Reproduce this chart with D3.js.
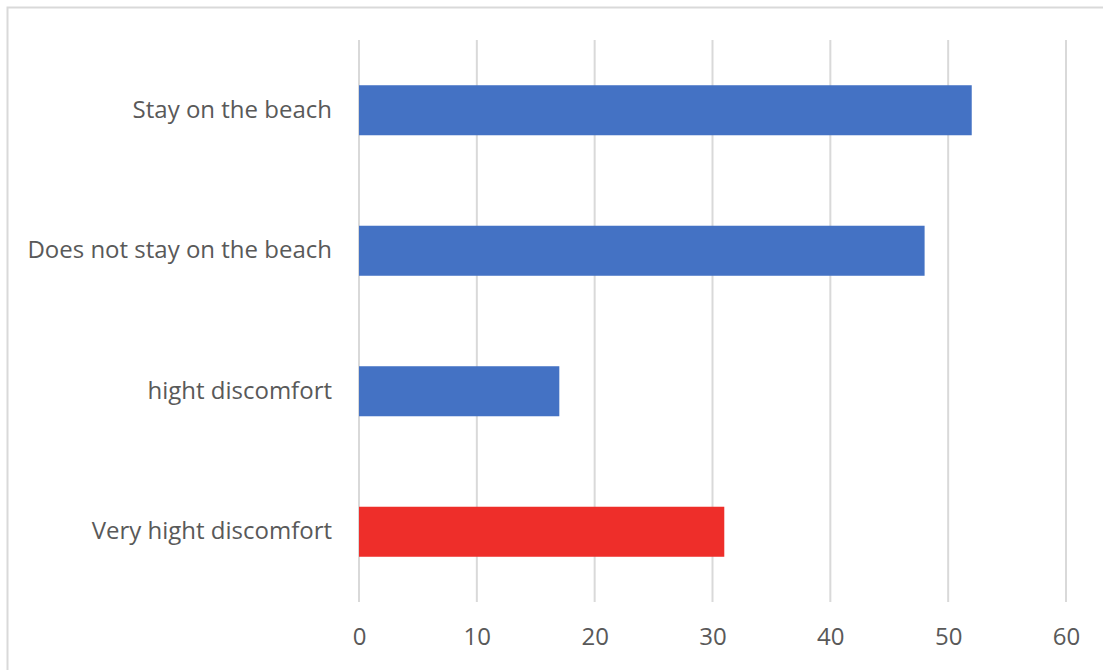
<!DOCTYPE html>
<html>
<head>
<meta charset="utf-8">
<script src="https://cdn.jsdelivr.net/npm/d3@7"></script>
<style>
  body { margin: 0; background: #fff; }
  svg { display: block; }
  .axis text { font-family: 'Open Sans', sans-serif; fill: #595959; }
</style>
</head>
<body>
<div id="chart"></div>
<script>
// data
var categories = ["Stay on the beach", "Does not stay on the beach", "hight discomfort", "Very hight discomfort"];
var values = [52, 48, 17, 31];
var barColors = ["#4472c4", "#4472c4", "#4472c4", "#ee2e2a"];
var xTicks = [0, 10, 20, 30, 40, 50, 60];

var width = 1103, height = 670;
var margin = {top: 40, right: 37, bottom: 68, left: 359};
var innerW = width - margin.left - margin.right,
    innerH = height - margin.top - margin.bottom;

var svg = d3.select("#chart").append("svg")
    .attr("width", width)
    .attr("height", height);

// outer chart border, cropped at the right and bottom
svg.append("rect")
    .attr("x", 7.5).attr("y", 7.5)
    .attr("width", width + 20).attr("height", height + 20)
    .attr("fill", "none")
    .attr("stroke", "#d9d9d9")
    .attr("stroke-width", 2);

var g = svg.append("g")
    .attr("transform", "translate(" + margin.left + "," + margin.top + ")");

var x = d3.scaleLinear().domain([0, 60]).range([0, innerW]);
var y = d3.scaleBand().domain(categories).range([0, innerH])
    .paddingInner(0.644).paddingOuter(0.322);

// vertical gridlines
g.append("g").attr("class", "grid")
  .selectAll("line")
    .data(xTicks)
  .enter().append("line")
    .attr("x1", function(d) { return x(d); })
    .attr("x2", function(d) { return x(d); })
    .attr("y1", 0)
    .attr("y2", innerH)
    .attr("stroke", "#d9d9d9")
    .attr("stroke-width", 2);

// bars
g.append("g").selectAll("rect")
    .data(values)
  .enter().append("rect")
    .attr("x", x(0))
    .attr("y", function(d, i) { return y(categories[i]); })
    .attr("width", function(d) { return x(d) - x(0); })
    .attr("height", y.bandwidth())
    .attr("fill", function(d, i) { return barColors[i]; });

// x axis labels
var xAxis = g.append("g")
    .attr("class", "axis")
    .attr("transform", "translate(0," + innerH + ")")
    .call(d3.axisBottom(x).tickValues(xTicks).tickSize(0).tickPadding(26));
xAxis.select(".domain").remove();
xAxis.selectAll("text").style("font-size", "24px");

// category labels
var yAxis = g.append("g")
    .attr("class", "axis")
    .call(d3.axisLeft(y).tickSize(0).tickPadding(27));
yAxis.select(".domain").remove();
yAxis.selectAll("text").style("font-size", "24px");
</script>
</body>
</html>
